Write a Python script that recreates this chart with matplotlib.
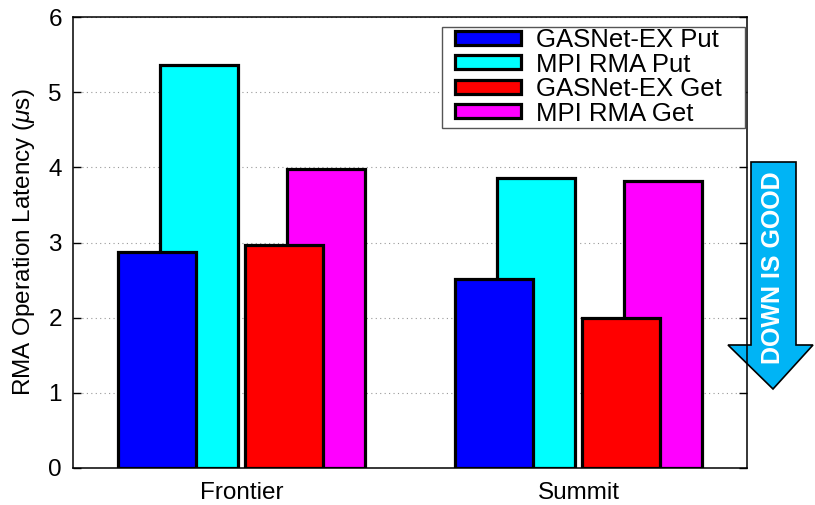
import matplotlib
matplotlib.use('Agg')
import matplotlib.pyplot as plt
from matplotlib.patches import Patch, Polygon, Rectangle
import numpy as np

plt.rcParams['font.family'] = ['Liberation Sans', 'DejaVu Sans']
plt.rcParams['mathtext.fontset'] = 'custom'
plt.rcParams['mathtext.rm'] = 'Liberation Sans'
plt.rcParams['mathtext.it'] = 'Liberation Sans:italic'

# datos
sistemas = ['Frontier', 'Summit']
gasnet_put = [2.87, 2.51]
mpi_put = [5.36, 3.86]
gasnet_get = [2.97, 1.99]
mpi_get = [3.98, 3.82]

series = ['GASNet-EX Put', 'MPI RMA Put', 'GASNet-EX Get', 'MPI RMA Get']
colores = ['#0000ff', '#00ffff', '#ff0000', '#ff00ff']

W, H = 815, 505
fig = plt.figure(figsize=(W / 100, H / 100), dpi=100)
ax = fig.add_axes([73/W, 37/H, 674/W, 451/H])

x = np.arange(len(sistemas))
ancho = 0.232
lw = 2.3

# las barras de MPI van detras
ax.bar(x - 0.125, mpi_put, ancho, color=colores[1], edgecolor='black', linewidth=lw, zorder=2)
ax.bar(x - 0.25, gasnet_put, ancho, color=colores[0], edgecolor='black', linewidth=lw, zorder=3)
ax.bar(x + 0.25, mpi_get, ancho, color=colores[3], edgecolor='black', linewidth=lw, zorder=2)
ax.bar(x + 0.125, gasnet_get, ancho, color=colores[2], edgecolor='black', linewidth=lw, zorder=3)

ax.set_xlim(-0.5, 1.5)
ax.set_ylim(0, 6)
ax.set_xticks(x)
ax.set_xticklabels(sistemas, fontsize=17.5)
ax.set_yticks(range(0, 7))
ax.tick_params(axis='y', direction='in', right=True, length=6, width=1, labelsize=17.5, pad=8)
ax.tick_params(axis='x', length=0, pad=10)
ax.set_ylabel(r'RMA Operation Latency ($\mathit{\mu}$s)', fontsize=17.5, labelpad=8)
ax.yaxis.grid(True, linestyle=(0, (1, 3)), color='#999999', linewidth=0.8, zorder=0)
ax.set_axisbelow(True)
for s in ax.spines.values():
    s.set_linewidth(1.1)

# caja de la leyenda
caja = Rectangle((442/W, (H - 128)/H), (745 - 442)/W, (128 - 27)/H, transform=fig.transFigure,
                 facecolor='white', edgecolor='#555555', linewidth=1.0, clip_on=False, zorder=4)
ax.add_patch(caja)

handles = [Patch(facecolor=c, edgecolor='black', linewidth=2.3) for c in colores]
leg = ax.legend(handles, series, loc='upper left', bbox_to_anchor=(455/W, (H - 28)/H),
                bbox_transform=fig.transFigure, frameon=False,
                fontsize=18.5, handlelength=2.55, handleheight=0.45, labelspacing=0.02,
                borderpad=0, handletextpad=0.62, borderaxespad=0)
leg.set_zorder(5)

# flecha "DOWN IS GOOD"
pts = [(751, 162), (796, 162), (796, 345), (813, 345), (773, 389),
       (728, 345), (751, 345)]
pts = [(px / W, (H - py) / H) for px, py in pts]
flecha = Polygon(pts, closed=True, facecolor='#00b4f5', edgecolor='black',
                 linewidth=1.2, transform=fig.transFigure, clip_on=False, zorder=2.2)
ax.add_patch(flecha)
fig.text(773/W, (H - 268)/H, 'DOWN IS GOOD', rotation=90, color='white',
         fontsize=18, fontweight='bold', ha='center', va='center', zorder=5)

plt.savefig('out.png', dpi=100)
